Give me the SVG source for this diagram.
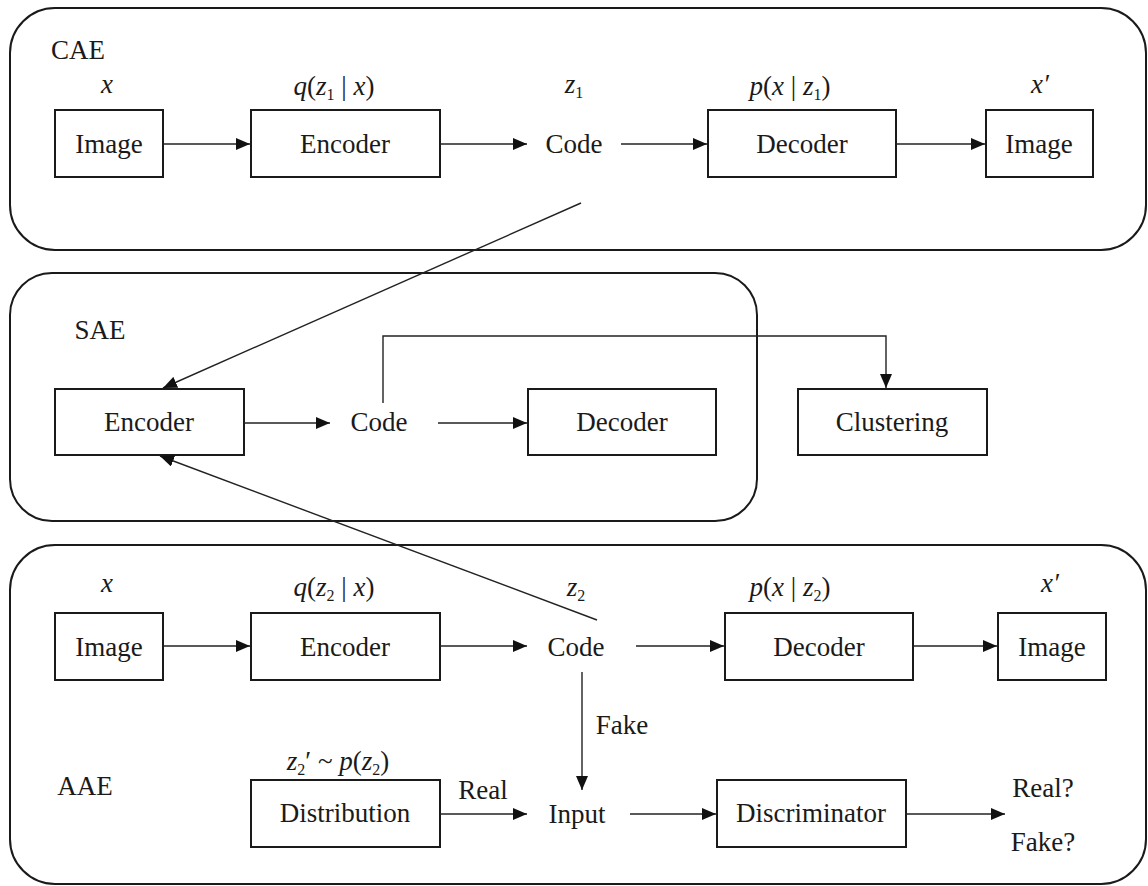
<svg xmlns="http://www.w3.org/2000/svg" width="1148" height="886" viewBox="0 0 1148 886">
<defs>
<marker id="ah" markerUnits="userSpaceOnUse" markerWidth="15" markerHeight="12" refX="14" refY="6" orient="auto">
<path d="M0,0 L14,6 L0,12 z" fill="#111"/>
</marker>
</defs>
<g id="cae">
<rect fill="none" stroke="#1a1a1a" stroke-width="2" x="10" y="8" width="1136" height="242" rx="45"/>
<text font-family="Liberation Serif" font-size="27" fill="#1a1a1a" text-anchor="middle" x="78" y="59">CAE</text>
</g>
<g id="sae">
<rect fill="none" stroke="#1a1a1a" stroke-width="2" x="10" y="273" width="747" height="248" rx="42"/>
<text font-family="Liberation Serif" font-size="27" fill="#1a1a1a" text-anchor="middle" x="100" y="339">SAE</text>
</g>
<g id="aae">
<rect fill="none" stroke="#1a1a1a" stroke-width="2" x="10" y="545" width="1136" height="339" rx="45"/>
<text font-family="Liberation Serif" font-size="27" fill="#1a1a1a" text-anchor="middle" x="85" y="795">AAE</text>
</g>
<g id="cae-img1"><rect fill="#fff" stroke="#1a1a1a" stroke-width="2" x="55" y="110" width="108" height="67"/><text font-family="Liberation Serif" font-size="27" fill="#1a1a1a" text-anchor="middle" x="109" y="153">Image</text><text font-family="Liberation Serif" font-style="italic" font-size="27" fill="#1a1a1a" text-anchor="middle" x="107" y="93">x</text></g>
<g id="cae-enc"><rect fill="#fff" stroke="#1a1a1a" stroke-width="2" x="251" y="110" width="189" height="67"/><text font-family="Liberation Serif" font-size="27" fill="#1a1a1a" text-anchor="middle" x="345" y="153">Encoder</text><text font-family="Liberation Serif" font-size="27" fill="#1a1a1a" text-anchor="middle" x="334" y="95"><tspan font-style="italic">q</tspan>(<tspan font-style="italic">z</tspan><tspan font-size="16" dy="5">1</tspan><tspan dy="-5"> | </tspan><tspan font-style="italic">x</tspan>)</text></g>
<g id="cae-code"><text font-family="Liberation Serif" font-size="27" fill="#1a1a1a" text-anchor="middle" x="574" y="153">Code</text><text font-family="Liberation Serif" font-size="27" fill="#1a1a1a" text-anchor="middle" x="574" y="93"><tspan font-style="italic">z</tspan><tspan font-size="16" dy="5">1</tspan></text></g>
<g id="cae-dec"><rect fill="#fff" stroke="#1a1a1a" stroke-width="2" x="708" y="110" width="188" height="67"/><text font-family="Liberation Serif" font-size="27" fill="#1a1a1a" text-anchor="middle" x="802" y="153">Decoder</text><text font-family="Liberation Serif" font-size="27" fill="#1a1a1a" text-anchor="middle" x="790" y="95"><tspan font-style="italic">p</tspan>(<tspan font-style="italic">x</tspan> | <tspan font-style="italic">z</tspan><tspan font-size="16" dy="5">1</tspan><tspan dy="-5">)</tspan></text></g>
<g id="cae-img2"><rect fill="#fff" stroke="#1a1a1a" stroke-width="2" x="986" y="110" width="107" height="67"/><text font-family="Liberation Serif" font-size="27" fill="#1a1a1a" text-anchor="middle" x="1039" y="153">Image</text><text font-family="Liberation Serif" font-style="italic" font-size="27" fill="#1a1a1a" text-anchor="middle" x="1040" y="93">x′</text></g>
<g id="sae-enc"><rect fill="#fff" stroke="#1a1a1a" stroke-width="2" x="55" y="389" width="189" height="66"/><text font-family="Liberation Serif" font-size="27" fill="#1a1a1a" text-anchor="middle" x="149" y="431">Encoder</text></g>
<g id="sae-code"><text font-family="Liberation Serif" font-size="27" fill="#1a1a1a" text-anchor="middle" x="379" y="431">Code</text></g>
<g id="sae-dec"><rect fill="#fff" stroke="#1a1a1a" stroke-width="2" x="528" y="389" width="188" height="66"/><text font-family="Liberation Serif" font-size="27" fill="#1a1a1a" text-anchor="middle" x="622" y="431">Decoder</text></g>
<g id="clustering"><rect fill="#fff" stroke="#1a1a1a" stroke-width="2" x="798" y="389" width="189" height="66"/><text font-family="Liberation Serif" font-size="27" fill="#1a1a1a" text-anchor="middle" x="892" y="431">Clustering</text></g>
<g id="aae-img1"><rect fill="#fff" stroke="#1a1a1a" stroke-width="2" x="55" y="613" width="108" height="67"/><text font-family="Liberation Serif" font-size="27" fill="#1a1a1a" text-anchor="middle" x="109" y="656">Image</text><text font-family="Liberation Serif" font-style="italic" font-size="27" fill="#1a1a1a" text-anchor="middle" x="107" y="592">x</text></g>
<g id="aae-enc"><rect fill="#fff" stroke="#1a1a1a" stroke-width="2" x="251" y="613" width="189" height="67"/><text font-family="Liberation Serif" font-size="27" fill="#1a1a1a" text-anchor="middle" x="345" y="656">Encoder</text><text font-family="Liberation Serif" font-size="27" fill="#1a1a1a" text-anchor="middle" x="334" y="596"><tspan font-style="italic">q</tspan>(<tspan font-style="italic">z</tspan><tspan font-size="16" dy="5">2</tspan><tspan dy="-5"> | </tspan><tspan font-style="italic">x</tspan>)</text></g>
<g id="aae-code"><text font-family="Liberation Serif" font-size="27" fill="#1a1a1a" text-anchor="middle" x="576" y="656">Code</text><text font-family="Liberation Serif" font-size="27" fill="#1a1a1a" text-anchor="middle" x="576" y="596"><tspan font-style="italic">z</tspan><tspan font-size="16" dy="5">2</tspan></text></g>
<g id="aae-dec"><rect fill="#fff" stroke="#1a1a1a" stroke-width="2" x="725" y="613" width="188" height="67"/><text font-family="Liberation Serif" font-size="27" fill="#1a1a1a" text-anchor="middle" x="819" y="656">Decoder</text><text font-family="Liberation Serif" font-size="27" fill="#1a1a1a" text-anchor="middle" x="790" y="596"><tspan font-style="italic">p</tspan>(<tspan font-style="italic">x</tspan> | <tspan font-style="italic">z</tspan><tspan font-size="16" dy="5">2</tspan><tspan dy="-5">)</tspan></text></g>
<g id="aae-img2"><rect fill="#fff" stroke="#1a1a1a" stroke-width="2" x="998" y="613" width="108" height="67"/><text font-family="Liberation Serif" font-size="27" fill="#1a1a1a" text-anchor="middle" x="1052" y="656">Image</text><text font-family="Liberation Serif" font-style="italic" font-size="27" fill="#1a1a1a" text-anchor="middle" x="1050" y="592">x′</text></g>
<g id="dist"><rect fill="#fff" stroke="#1a1a1a" stroke-width="2" x="251" y="780" width="189" height="67"/><text font-family="Liberation Serif" font-size="27" fill="#1a1a1a" text-anchor="middle" x="345" y="822">Distribution</text><text font-family="Liberation Serif" font-size="27" fill="#1a1a1a" text-anchor="middle" x="338" y="770"><tspan font-style="italic">z</tspan><tspan font-size="16" dy="5">2</tspan><tspan dy="-5">′ ~ </tspan><tspan font-style="italic">p</tspan>(<tspan font-style="italic">z</tspan><tspan font-size="16" dy="5">2</tspan><tspan dy="-5">)</tspan></text></g>
<g id="input"><text font-family="Liberation Serif" font-size="27" fill="#1a1a1a" text-anchor="middle" x="577" y="823">Input</text></g>
<g id="disc"><rect fill="#fff" stroke="#1a1a1a" stroke-width="2" x="717" y="780" width="189" height="67"/><text font-family="Liberation Serif" font-size="27" fill="#1a1a1a" text-anchor="middle" x="811" y="822">Discriminator</text></g>
<g id="out"><text font-family="Liberation Serif" font-size="27" fill="#1a1a1a" text-anchor="middle" x="1043" y="797">Real?</text><text font-family="Liberation Serif" font-size="27" fill="#1a1a1a" text-anchor="middle" x="1043" y="851">Fake?</text></g>
<g id="connectors" fill="none" stroke="#222" stroke-width="1.4">
<line x1="163" y1="144" x2="250" y2="144" marker-end="url(#ah)"/>
<line x1="440" y1="144" x2="527" y2="144" marker-end="url(#ah)"/>
<line x1="621" y1="144" x2="707" y2="144" marker-end="url(#ah)"/>
<line x1="896" y1="144" x2="985" y2="144" marker-end="url(#ah)"/>
<line x1="581" y1="203" x2="163" y2="388" marker-end="url(#ah)"/>
<line x1="244" y1="423" x2="330" y2="423" marker-end="url(#ah)"/>
<line x1="438" y1="423" x2="527" y2="423" marker-end="url(#ah)"/>
<polyline points="383,403 383,336 886,336 886,388" marker-end="url(#ah)"/>
<line x1="597" y1="620" x2="160" y2="456" marker-end="url(#ah)"/>
<line x1="163" y1="646" x2="250" y2="646" marker-end="url(#ah)"/>
<line x1="440" y1="646" x2="527" y2="646" marker-end="url(#ah)"/>
<line x1="636" y1="646" x2="724" y2="646" marker-end="url(#ah)"/>
<line x1="913" y1="646" x2="997" y2="646" marker-end="url(#ah)"/>
<line x1="582" y1="672" x2="582" y2="790" marker-end="url(#ah)"/>
<line x1="440" y1="814" x2="527" y2="814" marker-end="url(#ah)"/>
<line x1="630" y1="814" x2="716" y2="814" marker-end="url(#ah)"/>
<line x1="906" y1="814" x2="1005" y2="814" marker-end="url(#ah)"/>
<text font-family="Liberation Serif" font-size="27" fill="#1a1a1a" stroke="none" text-anchor="middle" x="622" y="734">Fake</text>
<text font-family="Liberation Serif" font-size="27" fill="#1a1a1a" stroke="none" text-anchor="middle" x="483" y="799">Real</text>
</g>
</svg>
